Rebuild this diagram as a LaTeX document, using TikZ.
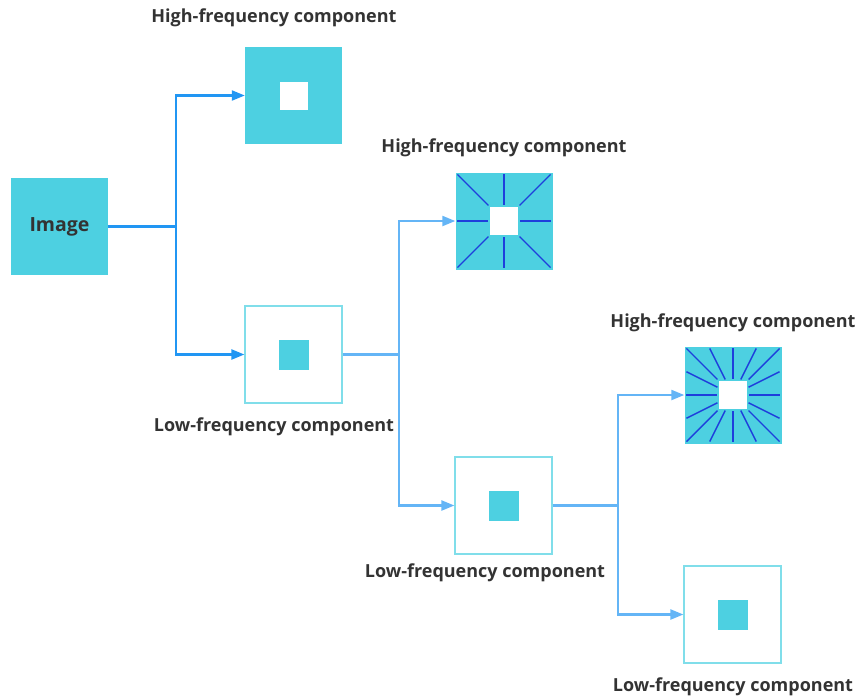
\documentclass[tikz,border=0pt]{standalone}
\usepackage{fontspec}
\setmainfont{Open Sans}
\usetikzlibrary{arrows.meta,positioning}
\definecolor{cyanfill}{HTML}{4DD0E1}
\definecolor{cyanline}{HTML}{80DEEA}
\definecolor{linkdark}{HTML}{2196F3}
\definecolor{linklight}{HTML}{64B5F6}
\definecolor{raycol}{HTML}{1E3FDC}
\definecolor{txt}{HTML}{333333}
\newcommand{\bsz}{97pt}
\newcommand{\hs}{48.5}

\begin{document}
\begin{tikzpicture}[x=1pt,y=-1pt,
    full/.style={fill=cyanfill, minimum size=\bsz, inner sep=0pt},
    empty/.style={draw=cyanline, line width=1.2pt, fill=white, minimum size=\bsz, inner sep=0pt},
    hole/.style={fill=white, minimum size=28pt, inner sep=0pt},
    dot/.style={fill=cyanfill, minimum size=30pt, inner sep=0pt},
    lbl/.style={text=txt, font=\fontsize{18}{21}\selectfont\bfseries},
    link/.style={draw=#1, line width=2.2pt},
    arr/.style={link=#1, -{Triangle[length=13pt,width=10pt]}},
    ray/.style={draw=raycol, line width=1.4pt}]
    \useasboundingbox (0,0) rectangle (857,699);

    % Input
    \node[full, text=txt, font=\fontsize{19.5}{22}\selectfont\bfseries] (img) at (59.5,226.5) {Image};

    % First level
    \node[full] (hf1) at (293.5,95.5) {};
    \node[hole] (hf1-c) at (hf1) {};
    \node[empty] (lf1) at (293.5,354.5) {};
    \node[dot] (lf1-c) at (lf1) {};
    \node[lbl] (hf1-l) at (274,18) {High-frequency component};
    \node[lbl] (lf1-l) at (274,427) {Low-frequency component};

    % Second level
    \node[full] (hf2) at (504,221) {};
    \node[hole] (hf2-c) at (hf2) {};
    \node[empty] (lf2) at (503.5,505.5) {};
    \node[dot] (lf2-c) at (lf2) {};
    \node[lbl] (hf2-l) at (504,148) {High-frequency component};
    \node[lbl] (lf2-l) at (485,573) {Low-frequency component};

    % Third level
    \node[full] (hf3) at (733,395) {};
    \node[hole] (hf3-c) at (hf3) {};
    \node[empty] (lf3) at (732.5,614.5) {};
    \node[dot] (lf3-c) at (lf3) {};
    \node[lbl] (hf3-l) at (733,323) {High-frequency component};
    \node[lbl] (lf3-l) at (733,687) {Low-frequency component};

    % Rays
    \begin{scope}[shift={(hf2)}]
        \foreach \dx/\dy in {1/0,1/1,0/1,-1/1,-1/0,-1/-1,0/-1,1/-1}
            \draw[ray] ({0.96*\hs*\dx},{0.96*\hs*\dy}) -- ({0.32*\hs*\dx},{0.32*\hs*\dy});
    \end{scope}
    \begin{scope}[shift={(hf3)}]
        \foreach \t in {-1,-0.5,0,0.5} {
            \draw[ray] ({0.96*\hs*\t},{-0.96*\hs}) -- ({0.32*\hs*\t},{-0.32*\hs});
            \draw[ray] ({0.96*\hs},{0.96*\hs*\t}) -- ({0.32*\hs},{0.32*\hs*\t});
            \draw[ray] ({-0.96*\hs*\t},{0.96*\hs}) -- ({-0.32*\hs*\t},{0.32*\hs});
            \draw[ray] ({-0.96*\hs},{-0.96*\hs*\t}) -- ({-0.32*\hs},{-0.32*\hs*\t});
        }
    \end{scope}

    % Connectors
    \coordinate (j1) at (176,226.5);
    \coordinate (j2) at (399,354.5);
    \coordinate (j3) at (618,505.5);
    \draw[link=linkdark] (img) -- (j1);
    \draw[arr=linkdark] (j1) |- (hf1);
    \draw[arr=linkdark] (j1) |- (lf1);
    \draw[link=linklight] (lf1) -- (j2);
    \draw[arr=linklight] (j2) |- (hf2);
    \draw[arr=linklight] (j2) |- (lf2);
    \draw[link=linklight] (lf2) -- (j3);
    \draw[arr=linklight] (j3) |- (hf3);
    \draw[arr=linklight] (j3) |- (lf3);
\end{tikzpicture}
\end{document}
